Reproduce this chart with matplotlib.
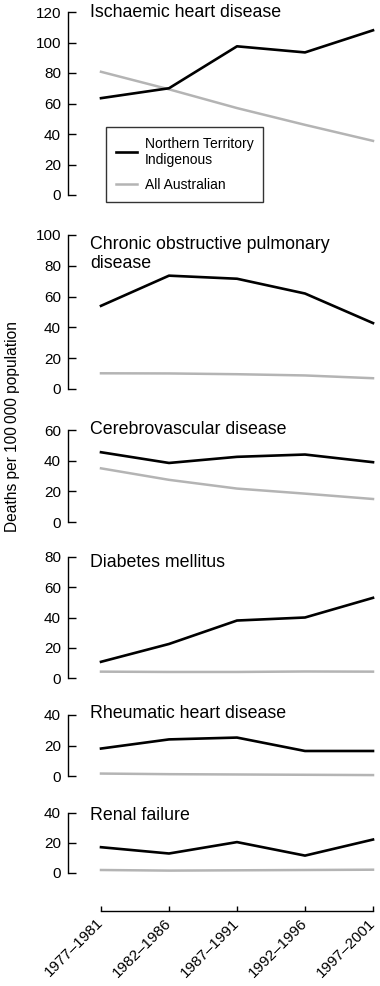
import matplotlib
matplotlib.use("Agg")
import matplotlib.pyplot as plt

plt.rcParams["font.family"] = ["Liberation Sans", "DejaVu Sans"]

# periods on the shared x axis
periods = ["1977\u20131981", "1982\u20131986", "1987\u20131991", "1992\u20131996", "1997\u20132001"]

# panel titles and y-axis tops
titles = [
    "Ischaemic heart disease",
    "Chronic obstructive pulmonary\ndisease",
    "Cerebrovascular disease",
    "Diabetes mellitus",
    "Rheumatic heart disease",
    "Renal failure",
]
y_tops = [120, 100, 60, 80, 40, 40]
y_steps = [20, 20, 20, 20, 20, 20]

# deaths per 100 000, Northern Territory Indigenous
nt_ihd = [63.5, 70, 97.5, 93.5, 108]
nt_copd = [54, 73.6, 71.6, 62, 42.8]
nt_cvd = [45.5, 38.5, 42.5, 44, 39]
nt_diab = [10.7, 22.5, 38, 40, 53]
nt_rhd = [18, 24, 25.2, 16.4, 16.4]
nt_renal = [17.2, 13, 20.6, 11.6, 22.3]

# deaths per 100 000, all Australians
aus_ihd = [80.8, 69.3, 57, 46, 35.5]
aus_copd = [10.2, 10.1, 9.6, 8.8, 7]
aus_cvd = [35, 27.5, 21.8, 18.5, 15]
aus_diab = [4.2, 4, 4, 4.3, 4.2]
aus_rhd = [1.6, 1.2, 1, 0.8, 0.6]
aus_renal = [2, 1.6, 1.8, 2, 2.2]

nt_series = [nt_ihd, nt_copd, nt_cvd, nt_diab, nt_rhd, nt_renal]
aus_series = [aus_ihd, aus_copd, aus_cvd, aus_diab, aus_rhd, aus_renal]

# layout, in pixels of the 380 x 986 canvas
W, H = 380, 986
panel_px = [(12, 195), (235, 389), (430, 522), (557, 678), (715, 776), (813, 873)]
title_base_px = [17, 268, 434, 567, 718, 820]
x_left_px, x0_px, x4_px = 68, 101, 373
xaxis_px = 911

BLACK = "#000000"
GREY = "#b4b4b4"

fig = plt.figure(figsize=(W / 100, H / 100), dpi=100)

step = (x4_px - x0_px) / 4.0
xmin = -(x0_px - x_left_px) / step
xmax = 4.05
ax_w = (xmax - xmin) * step


def fig_rect(top, bottom):
    return [x_left_px / W, (H - bottom) / H, ax_w / W, (bottom - top) / H]


xs = list(range(len(periods)))
for i, (title, top) in enumerate(zip(titles, y_tops)):
    t_px, b_px = panel_px[i]
    ax = fig.add_axes(fig_rect(t_px, b_px))
    l1, = ax.plot(xs, nt_series[i], color=BLACK, lw=1.9, clip_on=False,
                  zorder=3, label="Northern Territory\nIndigenous")
    l2, = ax.plot(xs, aus_series[i], color=GREY, lw=1.8, clip_on=False,
                  zorder=2, label="All Australian")
    ax.set_xlim(xmin, xmax)
    ax.set_ylim(0, top)
    ax.set_yticks(range(0, top + 1, y_steps[i]))
    ax.set_xticks([])
    for s in ["top", "right", "bottom"]:
        ax.spines[s].set_visible(False)
    ax.spines["left"].set_linewidth(1.0)
    ax.tick_params(axis="y", direction="in", length=5.5, width=1.0, pad=5,
                   labelsize=11)
    ax.patch.set_visible(False)
    fig.text(90 / W, (H - title_base_px[i]) / H, title, fontsize=12.8,
             va="baseline", ha="left", linespacing=1.12)

    if i == 0:
        leg = fig.legend(
            handles=[l1, l2],
            loc="upper left",
            bbox_to_anchor=(106 / W, (H - 127) / H),
            frameon=True,
            fancybox=False,
            edgecolor=BLACK,
            fontsize=10,
            handlelength=1.5,
            handletextpad=0.6,
            borderpad=0.7,
            labelspacing=0.8,
            borderaxespad=0,
        )
        leg.get_frame().set_linewidth(1.0)

# shared x axis at the bottom
axx = fig.add_axes([x_left_px / W, (H - xaxis_px) / H, ax_w / W, 0.001])
axx.set_xlim(xmin, xmax)
axx.set_yticks([])
for s in ["top", "right", "left"]:
    axx.spines[s].set_visible(False)
axx.spines["bottom"].set_bounds(0, 4)
axx.spines["bottom"].set_linewidth(1.0)
axx.set_xticks(xs)
axx.set_xticklabels(periods, rotation=45, ha="right", va="center",
                    rotation_mode="anchor", fontsize=11)
axx.tick_params(axis="x", direction="in", length=3.5, width=1.0, pad=7)
axx.patch.set_visible(False)

fig.text(13 / W, (H - 426) / H, "Deaths per 100\u2009000 population",
         rotation=90, va="center", ha="center", fontsize=11.2)

fig.savefig("out.png", dpi=100)
